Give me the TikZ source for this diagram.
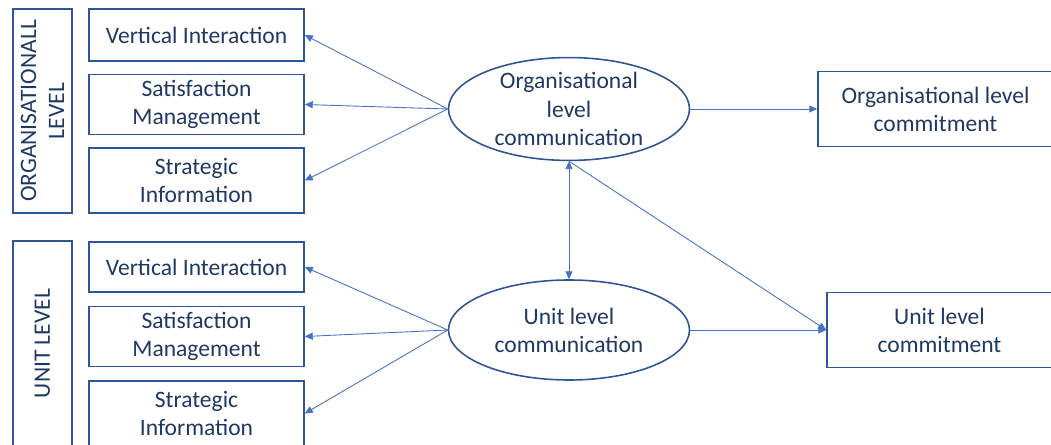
\documentclass[tikz,border=0pt]{standalone}
\usepackage{fontspec}
\setmainfont{Carlito}
\usepackage{tikz}
\usetikzlibrary{shapes.geometric, arrows.meta}
\definecolor{linkblue}{HTML}{4472C4}
\definecolor{edgeblue}{HTML}{2F5597}
\definecolor{textnavy}{HTML}{1F3864}
\tikzstyle{rec} = [rectangle, minimum width=4.3cm, minimum height=1.02cm, text centered, align=center, draw=edgeblue, line width=0.9pt, text=textnavy]
\tikzstyle{side} = [rectangle, rotate=90, minimum height=1.18cm, text centered, align=center, draw=edgeblue, line width=0.9pt, text=textnavy]
\tikzstyle{oval} = [ellipse, minimum width=4.82cm, minimum height=2.0cm, inner sep=0pt, text centered, align=center, draw=edgeblue, line width=0.9pt, text=textnavy]
\tikzstyle{arrow} = [draw=linkblue, line width=0.5pt, -{Triangle[length=4.5pt,width=4pt]}]

\begin{document}
\begin{tikzpicture}[font=\fontsize{13.4}{16}\selectfont]
		\clip (0,0) rectangle (21.02,-8.9);
		% level labels down the left side
		\node (orglevel) [side, minimum width=4.08cm] at (0.85,-2.22) {ORGANISATIONALL\\LEVEL};
		\node (unitlevel) [side, minimum width=4.1cm] at (0.85,-6.87) {UNIT LEVEL};
		% organisational level items
		\node (vi1) [rec, minimum height=1.04cm] at (3.93,-0.70) {Vertical Interaction};
		\node (sm1) [rec, below of=vi1, node distance=1.39cm] {Satisfaction\\Management};
		\node (si1) [rec, minimum height=1.3cm, below of=sm1, node distance=1.52cm] {Strategic\\Information};
		% unit level items
		\node (vi2) [rec, minimum height=1.0cm, below of=si1, node distance=1.73cm] {Vertical Interaction};
		\node (sm2) [rec, below of=vi2, node distance=1.39cm] {Satisfaction\\Management};
		\node (si2) [rec, minimum height=1.3cm, below of=sm2, node distance=1.54cm] {Strategic\\Information};
		% communication
		\node (orgcomm) [oval] at (11.38,-2.18) {Organisational\\level\\communication};
		\node (unitcomm) [oval, below of=orgcomm, node distance=4.42cm] {Unit level\\communication};
		% commitment
		\node (orgcommit) [rec, minimum width=4.7cm, minimum height=1.5cm, right of=orgcomm, node distance=7.33cm] {Organisational level\\commitment};
		\node (unitcommit) [rec, minimum width=4.5cm, minimum height=1.5cm, right of=unitcomm, node distance=7.41cm] {Unit level\\commitment};
		% links
		\draw [arrow] (orgcomm.west) -- (vi1.east);
		\draw [arrow] (orgcomm.west) -- (sm1.east);
		\draw [arrow] (orgcomm.west) -- (si1.east);
		\draw [arrow] (unitcomm.west) -- (vi2.east);
		\draw [arrow] (unitcomm.west) -- (sm2.east);
		\draw [arrow] (unitcomm.west) -- (si2.east);
		\draw [arrow] (orgcomm.east) -- (orgcommit.west);
		\draw [arrow] (unitcomm.east) -- (unitcommit.west);
		\draw [arrow, {Triangle[length=4.5pt,width=4pt]}-{Triangle[length=4.5pt,width=4pt]}] (orgcomm.south) -- (unitcomm.north);
		\draw [arrow] (orgcomm.south) -- (unitcommit.west);
\end{tikzpicture}
\end{document}
